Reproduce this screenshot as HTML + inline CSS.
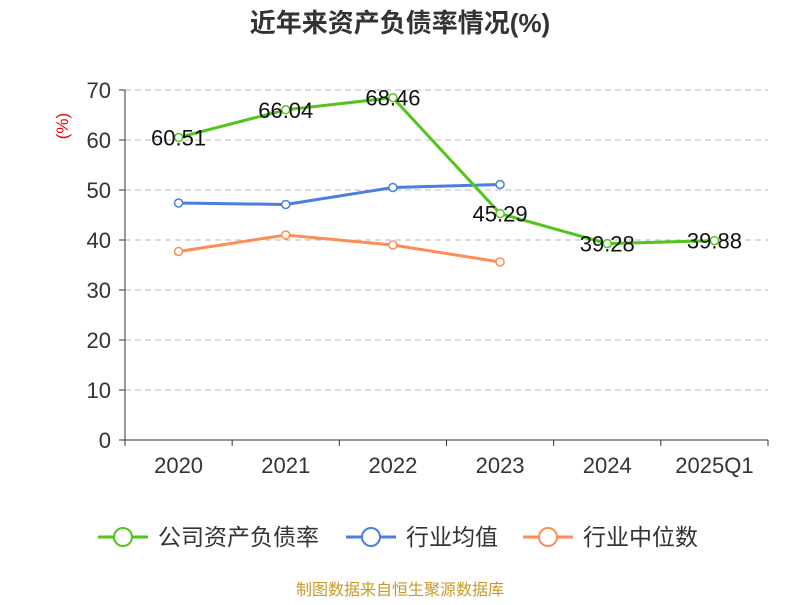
<!DOCTYPE html>
<html><head><meta charset="utf-8"><style>
body{margin:0;background:#fff;font-family:"Liberation Sans","Noto Sans CJK SC",sans-serif}
</style></head><body>
<svg width="800" height="600" xmlns="http://www.w3.org/2000/svg" id="chart" font-family="Liberation Sans, Noto Sans CJK SC, sans-serif">
<text x="400" y="32" text-anchor="middle" font-size="26" font-weight="bold" fill="#333">近年来资产负债率情况(%)</text>
<text x="68" y="126" text-anchor="middle" font-size="17" fill="#e00" transform="rotate(-90 68 126)">(%)</text>
<g id="grid"></g><g id="axes"></g><g id="series"></g>
<g>
<g><line x1="98" y1="537" x2="148" y2="537" stroke="#52c41a" stroke-width="3"/><circle cx="123" cy="537" r="9" fill="#fff" stroke="#52c41a" stroke-width="2"/><text x="158" y="545" font-size="23" fill="#333">公司资产负债率</text></g>
<g><line x1="346" y1="537" x2="396" y2="537" stroke="#4a7fdf" stroke-width="3"/><circle cx="371" cy="537" r="9" fill="#fff" stroke="#4a7fdf" stroke-width="2"/><text x="406" y="545" font-size="23" fill="#333">行业均值</text></g>
<g><line x1="523" y1="537" x2="573" y2="537" stroke="#ff8c55" stroke-width="3"/><circle cx="548" cy="537" r="9" fill="#fff" stroke="#ff8c55" stroke-width="2"/><text x="583" y="545" font-size="23" fill="#333">行业中位数</text></g>
</g>
<text x="400" y="595" text-anchor="middle" font-size="16" fill="#c89a2a">制图数据来自恒生聚源数据库</text>
</svg>
<script>
const categories=["2020","2021","2022","2023","2024","2025Q1"];
const companyValues=[60.51,66.04,68.46,45.29,39.28,39.88];
const industryAvg=[47.4,47.1,50.5,51.1];
const industryMedian=[37.7,41.0,39.0,35.6];
const yTicks=[0,10,20,30,40,50,60,70];
const NS="http://www.w3.org/2000/svg";
const x0=125,x1=768,yb=440,yt=90,ymax=70;
const bw=(x1-x0)/categories.length;
const X=i=>x0+bw*(i+0.5);
const Y=v=>yb-(v/ymax)*(yb-yt);
function mk(t,a,p){const e=document.createElementNS(NS,t);for(const k in a)e.setAttribute(k,a[k]);p.appendChild(e);return e;}
const grid=document.getElementById('grid'),axes=document.getElementById('axes'),ser=document.getElementById('series');
yTicks.forEach(v=>{
 if(v>0){const g=mk('line',{x1:x0,x2:x1,y1:Y(v),y2:Y(v),stroke:'#bbb','stroke-dasharray':'6,4'},grid);
 
 }
 mk('line',{x1:x0-6,x2:x0,y1:Y(v),y2:Y(v),stroke:'#333'},axes);
 const t=mk('text',{x:x0-14,y:Y(v)+8,'text-anchor':'end','font-size':22,fill:'#333'},axes);t.textContent=v;
 
 
});
mk('line',{x1:x0,x2:x0,y1:yt,y2:yb,stroke:'#333'},axes);
mk('line',{x1:x0,x2:x1,y1:yb,y2:yb,stroke:'#333'},axes);
for(let i=0;i<=categories.length;i++)mk('line',{x1:x0+bw*i,x2:x0+bw*i,y1:yb,y2:yb+6,stroke:'#333'},axes);
categories.forEach((c,i)=>{const t=mk('text',{x:X(i),y:yb+33,'text-anchor':'middle','font-size':22,fill:'#333'},axes);t.textContent=c;
 
 });
function series(vals,color,name,labels){
 const g=mk('g',{},ser);
 
 
 mk('polyline',{points:vals.map((v,i)=>X(i)+','+Y(v)).join(' '),fill:'none',stroke:color,'stroke-width':3},g);
 vals.forEach((v,i)=>{const c=mk('circle',{cx:X(i),cy:Y(v),r:4,fill:'#fff',stroke:color,'stroke-width':1.5},g);
  
  
  if(labels){const t=mk('text',{x:X(i),y:Y(v)+8,'text-anchor':'middle','font-size':22,fill:'#111'},g);t.textContent=v.toFixed(2);
   
   }
 });
}
series(industryMedian,'#ff8c55','industry-median-line',false);
series(industryAvg,'#4a7fdf','industry-avg-line',false);
series(companyValues,'#52c41a','company-line',true);
</script>
</body></html>
